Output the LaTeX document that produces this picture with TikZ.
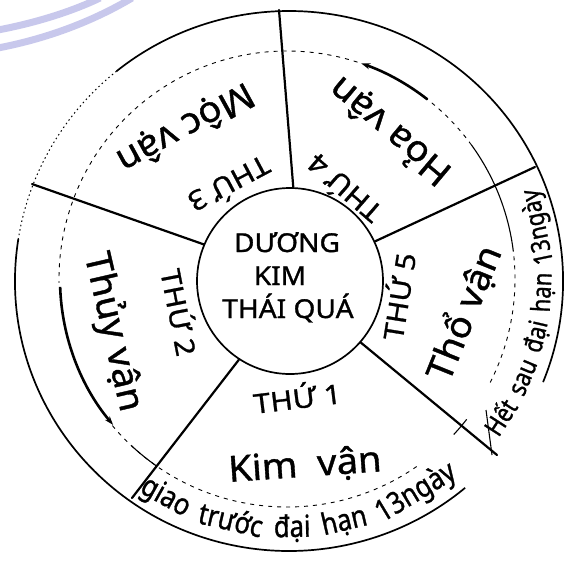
\documentclass[tikz,border=0pt]{standalone}
\usepackage{fontspec}
\setmainfont{Noto Sans}[FakeBold=0.6]
\newfontfamily\hubfont[FakeStretch=1.08,FakeBold=1.2]{Noto Sans}
\newfontfamily\handfont[FakeStretch=1.06,FakeBold=1]{Noto Sans}
\newfontfamily\dayfont[FakeStretch=1.12,FakeBold=1]{Noto Sans}
\newfontfamily\bandfont[FakeStretch=0.85,FakeBold=1]{Noto Sans}
\usetikzlibrary{arrows.meta}
\definecolor{wmark}{HTML}{C8C8EC}
\begin{document}
\begin{tikzpicture}[x=1pt,y=1pt,
  ring/.style={line width=1.7pt},
  divider/.style={line width=2.2pt, line cap=round},
  thinarc/.style={line width=1.1pt},
  dasharc/.style={line width=0.9pt, dash pattern=on 4pt off 5pt},
  dotarc/.style={line width=1pt, dash pattern=on 1.5pt off 3pt},
  flow/.style={line width=2.6pt, -{Stealth[length=9pt,width=6pt]}},
  big/.style={font=\handfont\fontsize{36}{36}\selectfont, inner sep=0pt},
  day/.style={font=\dayfont\fontsize{27}{27}\selectfont, inner sep=0pt},
  hubtext/.style={font=\hubfont\fontsize{26}{26}\selectfont, inner sep=0pt, anchor=base},
  band/.style={font=\bandfont\fontsize{30}{30}\selectfont, inner sep=0pt, anchor=base},
  rband/.style={font=\bandfont\fontsize{26}{26}\selectfont, inner sep=0pt, anchor=base},
]
\useasboundingbox (0,0) rectangle (572,-565);
% watermark arcs
\draw[wmark, line width=7pt] (-2,-30) .. controls (40,-22) and (75,-10) .. (100,2);
\draw[wmark, line width=7pt] (-2,-48) .. controls (50,-38) and (95,-20) .. (132,2);

\coordinate (O) at (289,-281);
\coordinate (M) at (287,-279);
\node[circle, draw, ring, minimum size=186pt, inner sep=0pt] (hub) at (290,-281) {};

% outer ring
\draw[ring] (O) ++(171:274 and 270) arc[start angle=171, end angle=310, x radius=274, y radius=270];
\draw[ring] (O) ++(-22:274 and 270) arc[start angle=-22, end angle=129, x radius=274, y radius=270];
\draw[dotarc] (O) ++(129:274 and 270) arc[start angle=129, end angle=171, x radius=274, y radius=270];

% middle ring
\draw[dasharc] (M) ++(220:228) arc[start angle=220, end angle=305, radius=228];
\draw[thinarc] (M) ++(227:228) arc[start angle=227, end angle=235, radius=228];
\draw[thinarc] (M) ++(317:228) arc[start angle=317, end angle=322, radius=228];
\draw[dasharc] (M) ++(333:228) arc[start angle=333, end angle=367, radius=228];
\draw[thinarc] (M) ++(7:228) arc[start angle=7, end angle=36, radius=228];
\draw[dasharc] (M) ++(36:228) arc[start angle=36, end angle=52, radius=228];
\draw[flow] (M) ++(52:228) arc[start angle=52, end angle=71, radius=228];
\draw[dasharc] (M) ++(72:228) arc[start angle=72, end angle=181, radius=228];
\draw[flow] (M) ++(182:227) arc[start angle=182, end angle=220, radius=227];

% dividers
\coordinate (e1) at (279,-10);
\coordinate (e2) at (32,-184);
\coordinate (e3) at (132,-498);
\coordinate (e4) at (497,-455);
\coordinate (e5) at (535,-167);
\coordinate (c4a) at (486,-410);
\coordinate (c4b) at (492,-455);
\draw[divider] (hub.88.8) -- (e1);
\draw[divider] (hub.157) -- (e2);
\draw[divider] (hub.237.7) -- (e3);
\draw[divider] (hub.-41.4) -- (e4);
\draw[divider] (hub.25) -- (e5);
\draw[thinarc] (c4a) -- (c4b);

% centre text
\node[hubtext] (t1) at (287,-252) {DƯƠNG};
\node[hubtext] (t2) at (280,-285) {KIM};
\node[hubtext] (t3) at (288,-318) {THÁI QUÁ};

% day labels
\node[day, rotate=7] (d1) at (297,-396) {THỨ 1};
\node[day, rotate=-79] (d2) at (181,-312) {THỨ 2};
\node[day, rotate=208] (d3) at (230,-186) {THỨ 3};
\node[day, rotate=139] (d4) at (343,-190) {THỨ 4};
\node[day, rotate=81] (d5) at (397,-296) {THỨ 5};

% sector labels
\node[big, rotate=4] (kim) at (305,-466) {Kim\hspace{10pt} vận};
\node[big, rotate=-77] (thuy) at (113,-332) {Thủy vận};
\node[big, rotate=208.7] (moc) at (185,-127) {Mộc vận};
\node[big, rotate=140] (hoa) at (390,-131) {Hỏa vận};
\node[big, rotate=68] (tho) at (464,-313) {Thổ vận};

% bottom band words
\path (M) ++(240.9:258) node[band, rotate=330.9] (b1) {giao};
\path (M) ++(256.9:258) node[band, rotate=346.9] (b2) {trước};
\path (M) ++(271.2:258) node[band, rotate=1.2] (b3) {đại};
\path (M) ++(283.3:258) node[band, rotate=13.3] (b4) {hạn};
\path (M) ++(301.1:258) node[band, rotate=31.1] (b5) {13ngày};
% right band words
\path (M) ++(-32.9:264) node[rband, rotate=57.1] (r1) {Hết};
\path (M) ++(-22.6:264) node[rband, rotate=67.4] (r2) {sau};
\path (M) ++(-13.0:264) node[rband, rotate=77.0] (r3) {đại};
\path (M) ++(-3.0:264) node[rband, rotate=87.0] (r4) {hạn};
\path (M) ++(11.7:264) node[rband, rotate=101.7] (r5) {13ngày};
\end{tikzpicture}
\end{document}
